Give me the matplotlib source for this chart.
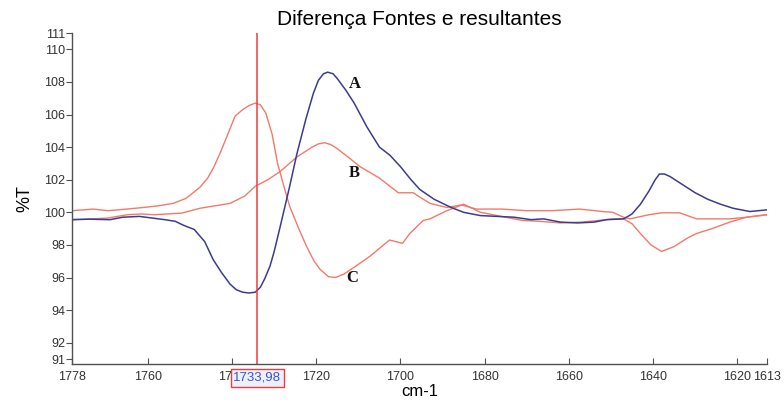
import matplotlib
matplotlib.use("Agg")
import matplotlib.pyplot as plt

plt.rcParams['font.family'] = ['Liberation Sans', 'DejaVu Sans']

# wavenumber (cm-1) / %T readings for each difference spectrum
wn_a = [1778, 1774, 1769, 1766, 1762, 1759, 1756, 1753.5, 1751.5, 1749, 1746.5,
        1744.5, 1742.5, 1740.5, 1739, 1737.5, 1736, 1734.5, 1733.3, 1732.3, 1731,
        1730, 1728.6, 1726.5, 1724.6, 1722.5, 1720.7, 1719.5, 1718.3, 1717.3,
        1716, 1715, 1713, 1711, 1708, 1705, 1702.5, 1700, 1697.5, 1695.4, 1692,
        1688, 1685, 1681, 1677, 1673, 1669, 1666, 1662, 1658, 1654, 1651, 1647,
        1645, 1643, 1641, 1639.5, 1638.5, 1637.3, 1636, 1633, 1630, 1627, 1624,
        1621, 1617, 1613]
t_a = [99.55, 99.58, 99.55, 99.7, 99.75, 99.65, 99.55, 99.45, 99.2, 98.95, 98.2,
       97.1, 96.3, 95.6, 95.25, 95.1, 95.05, 95.1, 95.4, 95.9, 96.7,
       97.6, 99.1, 101.4, 103.6, 105.7, 107.3, 108.1, 108.5, 108.6,
       108.5, 108.2, 107.5, 106.7, 105.25, 104.0, 103.5, 102.8, 102.0, 101.4, 100.8,
       100.3, 100.0, 99.8, 99.75, 99.7, 99.55, 99.6, 99.4, 99.35, 99.4, 99.55, 99.6,
       99.9, 100.5, 101.3, 102.0, 102.35, 102.35, 102.2, 101.7, 101.2, 100.8, 100.5,
       100.25, 100.05, 100.15]

wn_b = [1778, 1773, 1769.5, 1765, 1761.5, 1758.5, 1755.5, 1752, 1747.6, 1740.5,
        1737, 1734.5, 1731.5, 1728.6, 1724.6, 1721, 1719.5, 1718, 1716.5, 1715,
        1712, 1709.6, 1705, 1702.5, 1700.5, 1697, 1695.5, 1693, 1689, 1685.5,
        1682, 1676, 1670, 1664, 1657.4, 1652, 1649.6, 1647, 1645.5, 1641, 1638,
        1633.7, 1629.7, 1621.8, 1617.8, 1613]
t_b = [99.55, 99.6, 99.65, 99.85, 99.9, 99.85, 99.9, 99.95, 100.25, 100.55,
       101.0, 101.6, 102.0, 102.5, 103.4, 104.0, 104.2, 104.27, 104.15, 103.9,
       103.3, 102.8, 102.1, 101.6, 101.2, 101.2, 100.95, 100.55, 100.3, 100.45,
       100.2, 100.2, 100.1, 100.1, 100.2, 100.05, 100.0, 99.7, 99.6, 99.85, 99.97,
       99.97, 99.6, 99.6, 99.7, 99.85]

wn_c = [1778, 1773, 1769.5, 1765, 1761, 1757.5, 1754, 1751, 1749.5, 1747.6,
        1745.8, 1744.3, 1742.9, 1741, 1739.3, 1737.5, 1736, 1734.5, 1733.3, 1732,
        1730.5, 1729.2, 1727.7, 1726.3, 1724, 1722.3, 1720.5, 1719.1, 1717.1,
        1715.5, 1713.5, 1710.6, 1707.3, 1702.6, 1699.5, 1697.8, 1694.6, 1693,
        1689, 1685, 1681, 1675, 1671, 1667, 1662, 1657, 1653, 1649.5, 1647, 1645,
        1643, 1640.5, 1638, 1635, 1632, 1629.7, 1626, 1621.8, 1617.8, 1613]
t_c = [100.1, 100.2, 100.1, 100.2, 100.3, 100.4, 100.55, 100.85, 101.15, 101.55,
       102.1, 102.8, 103.6, 104.8, 105.9, 106.3, 106.55, 106.7, 106.6, 106.1,
       104.8, 103.0, 101.6, 100.35, 98.9, 97.9, 97.0, 96.5, 96.05,
       96.0, 96.2, 96.7, 97.3, 98.3, 98.1, 98.7, 99.5, 99.6,
       100.1, 100.5, 100.0, 99.7, 99.5, 99.45, 99.35, 99.4, 99.5, 99.6, 99.6, 99.3,
       98.7, 98.0, 97.6, 97.9, 98.4, 98.7, 99.0, 99.4, 99.7, 99.85]

cursor_wn = 1733.98
cursor_text = "1733,98"

y_ticks = [91, 92, 94, 96, 98, 100, 102, 104, 106, 108, 110, 111]
x_ticks = [1778, 1760, 1740, 1720, 1700, 1680, 1660, 1640, 1620, 1613]

blue = '#3c3c8e'
salmon = '#f27a6a'

fig = plt.figure(figsize=(7.84, 4.03), dpi=100)
ax = fig.add_axes([0.092, 0.097, 0.886, 0.821])

ax.plot(wn_c, t_c, color=salmon, lw=1.0)
ax.plot(wn_b, t_b, color=salmon, lw=1.0)
ax.plot(wn_a, t_a, color=blue, lw=1.1)
ax.axvline(cursor_wn, color='#f03c3c', lw=1.1)

ax.set_xlim(1778, 1613)
ax.set_ylim(90.7, 111)
ax.set_xticks(x_ticks)
ax.set_yticks(y_ticks)
ax.set_xticklabels([str(v) for v in x_ticks])
ax.set_yticklabels([str(v) for v in y_ticks])

for s in ['top', 'right']:
    ax.spines[s].set_visible(False)
for s in ['left', 'bottom']:
    ax.spines[s].set_color('#505050')
    ax.spines[s].set_linewidth(1.0)
ax.tick_params(axis='x', direction='in', length=4, color='#505050',
               labelsize=9, labelcolor='#333333', pad=5)
ax.tick_params(axis='y', direction='out', length=4, color='#505050',
               labelsize=9, labelcolor='#333333', pad=1)

ax.set_title('Diferença Fontes e resultantes', fontsize=15, pad=6)
ax.set_xlabel('cm-1', fontsize=12, labelpad=1)
ax.set_ylabel('%T', fontsize=13, labelpad=8)

# cursor readout under the axis
ax.text(cursor_wn, -0.024, cursor_text, transform=ax.get_xaxis_transform(),
        ha='center', va='top', fontsize=9.5, color='#3b55d0', zorder=10,
        clip_on=False,
        bbox=dict(boxstyle='square,pad=0.22', fc='#eef1fb', ec='#f03c3c', lw=1.0))

# curve letters
serif = dict(family=['Liberation Serif', 'DejaVu Serif'], fontweight='bold',
             fontsize=12, color='#111111', ha='center', va='center')
ax.text(1710.8, 107.9, 'A', **serif)
ax.text(1711.0, 102.4, 'B', **serif)
ax.text(1711.5, 96.0, 'C', **serif)

fig.savefig('out.png', dpi=100)
